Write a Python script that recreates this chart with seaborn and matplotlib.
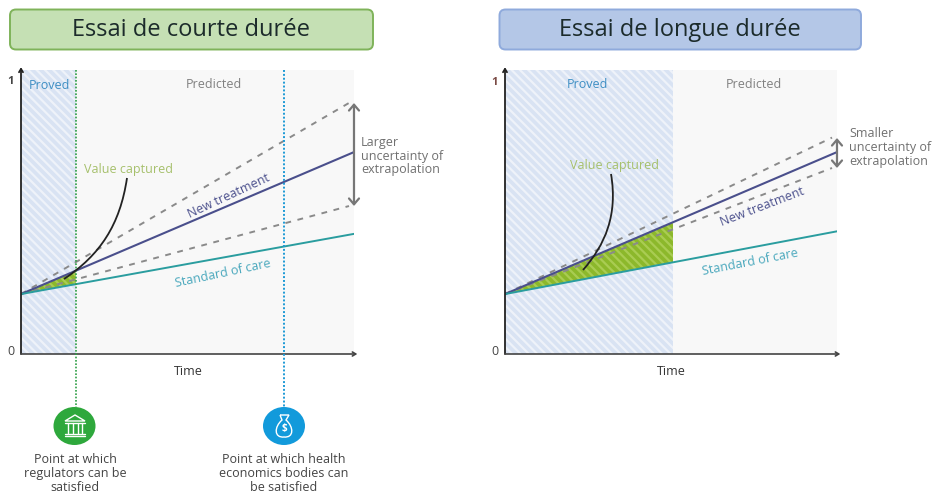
import matplotlib
matplotlib.use("Agg")
import matplotlib.pyplot as plt
from matplotlib.patches import FancyBboxPatch, Rectangle, Ellipse, Polygon, PathPatch
from matplotlib.path import Path
import numpy as np
import pandas as pd
import seaborn as sns

sns.set_theme(style="white")
plt.rcParams["font.family"] = ["Open Sans", "DejaVu Sans"]
plt.rcParams["hatch.linewidth"] = 1.6

# ---- data ----
time_end = [0.0, 1.0]
dash_end = [0.0, 0.985]
new_treatment = [0.211, 0.711]
standard_care_short = [0.211, 0.423]
standard_care_long = [0.211, 0.432]
upper_short = [0.211, 0.884]
lower_short = [0.211, 0.521]
upper_long = [0.211, 0.762]
lower_long = [0.211, 0.655]
proved_short = 0.164
health_short = 0.790
proved_long = 0.506
titles = ["Essai de courte durée", "Essai de longue durée"]
new_color, soc_color, dash_color = "#4a4f8c", "#2a9d9f", "#8a8a8a"

W, H = 934, 493
fig = plt.figure(figsize=(W / 100, H / 100), dpi=100, facecolor="white")


def make_axes(x0, x1, ytop, ybot):
    return fig.add_axes([x0 / W, 1 - ybot / H, (x1 - x0) / W, (ybot - ytop) / H])


def panel(ax, proved, soc, upper, lower):
    ax.set_xlim(0, 1)
    ax.set_ylim(0, 1)
    ax.set_facecolor("#f8f8f8")
    ax.add_patch(Rectangle((0, 0), proved, 1, facecolor="#d9e3f3", edgecolor="#eef2f9",
                           hatch="\\\\\\\\", lw=0, zorder=1))
    t = np.array(time_end)
    xs = np.array([0, proved])
    top = np.interp(xs, t, new_treatment)
    bot = np.interp(xs, t, soc)
    ax.fill_between(xs, bot, top, facecolor="#8cb82b", edgecolor="#a9cc52", hatch="\\\\\\\\",
                    lw=0, zorder=2)
    for x, y, c, lw, ls in [(dash_end, upper, dash_color, 1.4, (0, (3, 3.4))),
                            (dash_end, lower, dash_color, 1.4, (0, (3, 3.4))),
                            (time_end, new_treatment, new_color, 1.5, "-"),
                            (time_end, soc, soc_color, 1.4, "-")]:
        d = pd.DataFrame({"t": x, "v": y})
        sns.lineplot(data=d, x="t", y="v", color=c, lw=lw, ls=ls, ax=ax, zorder=3)
    ax.set_xlabel("")
    ax.set_ylabel("")
    ax.set_xticks([])
    ax.set_yticks([])
    for s in ax.spines.values():
        s.set_visible(False)
    # axis arrows
    ax.annotate("", xy=(0, 1.01), xytext=(0, 0), xycoords="axes fraction",
                arrowprops=dict(arrowstyle="->,head_width=0.12,head_length=0.2", color="#222222", lw=1.3,
                                shrinkA=0, shrinkB=0), zorder=5)
    ax.annotate("", xy=(1.01, 0), xytext=(0, 0), xycoords="axes fraction",
                arrowprops=dict(arrowstyle="->,head_width=0.12,head_length=0.2", color="#444444", lw=1.2,
                                shrinkA=0, shrinkB=0), zorder=5)


axL = make_axes(21, 354, 70, 354)
panel(axL, proved_short, standard_care_short, upper_short, lower_short)
axR = make_axes(505, 837, 70, 354)
panel(axR, proved_long, standard_care_long, upper_long, lower_long)

# overlay in pixel coordinates for annotation furniture
ov = fig.add_axes([0, 0, 1, 1], facecolor="none")
ov.set_xlim(0, W)
ov.set_ylim(H, 0)
ov.axis("off")

for (x0, x1, fc, ec, title) in [(10, 373, "#c5e0b4", "#7fb35a", titles[0]),
                                (499.5, 861, "#b4c7e7", "#8faadc", titles[1])]:
    ov.add_patch(FancyBboxPatch((x0 + 6, 9.5 + 6), x1 - x0 - 12, 40 - 12,
                                boxstyle="round,pad=6,rounding_size=6", fc=fc, ec=ec, lw=1.4))
    ov.text((x0 + x1) / 2, 30, title, ha="center", va="center", fontsize=17,
            color="#1c2b2b", family=["Open Sans", "DejaVu Sans"])


def t(x, y, s, color="#555555", size=9, rot=0, ha="center", weight="normal"):
    ov.text(x, y + 1.2, s, color=color, fontsize=size, rotation=rot, ha=ha, va="center",
            rotation_mode="anchor", fontweight=weight, linespacing=1.08)


# vertical guides
ov.plot([75.5, 75.5], [70, 407], color="#2e9e45", lw=1.2, ls=(0, (1, 1)))
ov.plot([284, 284], [70, 407], color="#1e9ad6", lw=1.4, ls=(0, (1, 1)))

# uncertainty arrows
for x, y0, y1 in [(354, 103, 206), (837, 138, 168)]:
    ov.annotate("", xy=(x, y0), xytext=(x, y1),
                arrowprops=dict(arrowstyle="<->,head_width=0.3,head_length=0.35", color="#777777",
                                lw=1.6, shrinkA=0, shrinkB=0))

# value captured leaders
for verts in [[(127, 178), (120, 225), (100, 255), (64, 279)],
              [(611, 174), (618, 215), (605, 245), (583, 270)]]:
    ov.add_patch(PathPatch(Path(verts, [Path.MOVETO, Path.CURVE4, Path.CURVE4, Path.CURVE4]),
                           fc="none", ec="#222222", lw=1.3, zorder=6))

# panel labels
t(49, 84, "Proved", "#3f8fc4")
t(214, 83, "Predicted", "#808080")
t(129, 168, "Value captured", "#a6c06c")
t(229, 195, "New treatment", new_color, 9, 25)
t(223, 272, "Standard of care", "#4aa8bd", 9, 12)
t(361, 155, "Larger\nuncertainty of\nextrapolation", "#707070", ha="left")
t(188, 370.5, "Time", "#333333")
t(11, 80, "1", "#444444", 8, weight="bold")
t(11, 350, "0", "#444444", 9)
t(495, 81, "1", "#7a4a44", 8, weight="bold")
t(495, 350, "0", "#444444", 9)
t(587, 83, "Proved", "#3f8fc4")
t(754, 83, "Predicted", "#808080")
t(615, 164, "Value captured", "#a6c06c")
t(762, 206, "New treatment", new_color, 9, 21)
t(750, 261, "Standard of care", "#4aa8bd", 9, 11)
t(849, 146, "Smaller\nuncertainty of\nextrapolation", "#707070", ha="left")
t(671, 370.5, "Time", "#333333")

# icons
ov.add_patch(Ellipse((74.5, 426), 42, 38, fc="#2ea83c", ec="none"))
ov.add_patch(Ellipse((284, 426), 42, 38, fc="#129adb", ec="none"))
ov.add_patch(Polygon([(65, 421), (75, 415), (85, 421)], closed=True, fc="none", ec="white", lw=1))
for yy in (422.5, 434, 436):
    ov.plot([65, 85], [yy, yy], color="white", lw=1)
for xx in (68, 73, 78, 82):
    ov.plot([xx, xx], [423, 433], color="white", lw=1)
bag = [(280, 415), (289, 415), (286, 420),
       (294, 427), (294, 438), (284, 437),
       (274, 438), (274, 427), (282, 420), (280, 415)]
codes = [Path.MOVETO, Path.LINETO, Path.LINETO,
         Path.CURVE4, Path.CURVE4, Path.CURVE4,
         Path.CURVE4, Path.CURVE4, Path.CURVE4, Path.LINETO]
ov.add_patch(PathPatch(Path(bag, codes), fc="none", ec="white", lw=1))
ov.text(284, 428, "$", color="white", fontsize=7, ha="center", va="center", fontweight="bold")

t(75, 472.5, "Point at which\nregulators can be\nsatisfied", "#444444")
t(284, 472.5, "Point at which health\neconomics bodies can\nbe satisfied", "#444444")

fig.savefig("out.png", dpi=100)
